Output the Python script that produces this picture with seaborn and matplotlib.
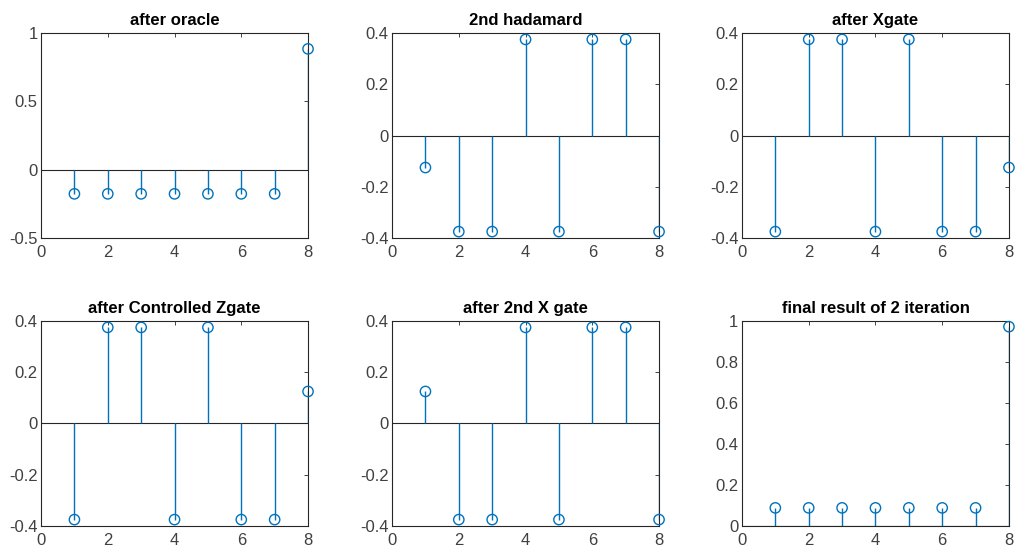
import numpy as np
import pandas as pd
import matplotlib
matplotlib.use("Agg")
import matplotlib.pyplot as plt
import seaborn as sns

# State amplitudes for the 8 basis states at each stage of the search
states = [1, 2, 3, 4, 5, 6, 7, 8]
after_oracle = [-0.1768, -0.1768, -0.1768, -0.1768, -0.1768, -0.1768, -0.1768, 0.8839]
second_hadamard = [-0.125, -0.375, -0.375, 0.375, -0.375, 0.375, 0.375, -0.375]
after_xgate = [-0.375, 0.375, 0.375, -0.375, 0.375, -0.375, -0.375, -0.125]
after_czgate = [-0.375, 0.375, 0.375, -0.375, 0.375, -0.375, -0.375, 0.125]
after_2nd_xgate = [0.125, -0.375, -0.375, 0.375, -0.375, 0.375, 0.375, -0.375]
final_result = [0.0884, 0.0884, 0.0884, 0.0884, 0.0884, 0.0884, 0.0884, 0.9722]

titles = ["after oracle", "2nd hadamard", "after Xgate",
          "after Controlled Zgate", "after 2nd X gate", "final result of 2 iteration"]
series = [after_oracle, second_hadamard, after_xgate,
          after_czgate, after_2nd_xgate, final_result]
ylims = [(-0.5, 1), (-0.4, 0.4), (-0.4, 0.4), (-0.4, 0.4), (-0.4, 0.4), (0, 1)]
yticks = [[-0.5, 0, 0.5, 1],
          [-0.4, -0.2, 0, 0.2, 0.4],
          [-0.4, -0.2, 0, 0.2, 0.4],
          [-0.4, -0.2, 0, 0.2, 0.4],
          [-0.4, -0.2, 0, 0.2, 0.4],
          [0, 0.2, 0.4, 0.6, 0.8, 1]]
xticks = [0, 2, 4, 6, 8]

sns.set_style("white")
plt.rcParams["font.family"] = ["Liberation Sans", "DejaVu Sans"]

STEM = "#0072BD"
AX = "#262626"
LABEL = "#404040"

fig = plt.figure(figsize=(10.21, 5.52), dpi=100)
fig.patch.set_facecolor("white")

lefts = [0.0402, 0.3840, 0.7267]
bottoms = [0.5688, 0.0471]
w, h = 0.2615, 0.3714

for i, (title, vals) in enumerate(zip(titles, series)):
    r, c = divmod(i, 3)
    ax = fig.add_axes([lefts[c], bottoms[r], w, h])
    df = pd.DataFrame({"state": states, "amp": vals})
    ax.vlines(df["state"], 0, df["amp"], color=STEM, lw=1.0, zorder=2)
    ax.axhline(0, color=AX, lw=0.8, zorder=1)
    sns.scatterplot(data=df, x="state", y="amp", ax=ax, marker="o", s=55,
                    facecolor="none", edgecolor=STEM, linewidth=1.0,
                    zorder=3, clip_on=False, legend=False)
    ax.set_xlim(0, 8)
    ax.set_ylim(*ylims[i])
    ax.set_xticks(xticks)
    ax.set_yticks(yticks[i])
    ax.set_yticklabels([f"{t:g}" for t in yticks[i]])
    ax.set_xlabel("")
    ax.set_ylabel("")
    ax.set_title(title, fontsize=12, fontweight="bold", color="black", pad=6)
    ax.tick_params(direction="in", length=3, width=0.6, colors=AX,
                   labelcolor=LABEL, labelsize=12, top=True, right=True)
    ax.tick_params(axis="x", pad=5)
    ax.tick_params(axis="y", pad=2.5)
    for sp in ax.spines.values():
        sp.set_visible(True)
        sp.set_color(AX)
        sp.set_linewidth(0.8)

fig.savefig("out.png", dpi=100, facecolor="white")
